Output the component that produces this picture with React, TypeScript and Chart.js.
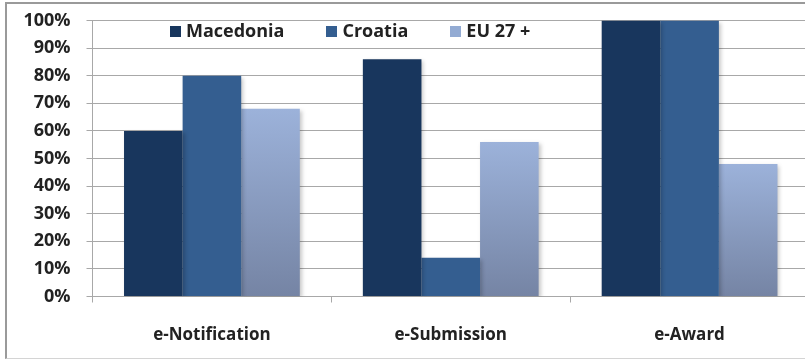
import React, { useEffect, useRef } from "react";
import { Chart, registerables } from "chart.js";

Chart.register(...registerables);

// ---- data ----
const categories = ["e-Notification", "e-Submission", "e-Award"];
const seriesNames = ["Macedonia", "Croatia", "EU 27 +"];
const macedonia = [60, 86, 100];
const croatia = [80, 14, 100];
const eu27 = [68, 56, 48];
const yMin = 0;
const yMax = 100;
const yStep = 10;

const FONT_FAMILY = "'Open Sans', 'DejaVu Sans', sans-serif";
const TEXT_COLOR = "#222222";
const GRID_COLOR = "#a8a8a8";

const insideLegend = {
  id: "insideLegend",
  afterDraw(chart: any) {
    const { ctx, chartArea } = chart;
    ctx.save();
    ctx.font = `bold 18px ${FONT_FAMILY}`;
    ctx.textBaseline = "middle";
    ctx.textAlign = "left";
    let x = chartArea.left + 77.5;
    const y = chartArea.top + 11;
    chart.data.datasets.forEach((ds: any) => {
      ctx.fillStyle = ds.legendColor;
      ctx.fillRect(Math.round(x), Math.round(y - 5.5), 11, 11);
      x += 16;
      ctx.fillStyle = TEXT_COLOR;
      ctx.fillText(ds.label, x, y + 0.5);
      x += ctx.measureText(ds.label).width + 42;
    });
    ctx.restore();
  },
};

const barShadow = {
  id: "barShadow",
  beforeDatasetsDraw(chart: any) {
    const c = chart.ctx;
    c.save();
    c.shadowColor = "rgba(0,0,0,0.22)";
    c.shadowBlur = 4;
    c.shadowOffsetX = 2;
    c.shadowOffsetY = 2;
  },
  afterDatasetsDraw(chart: any) {
    chart.ctx.restore();
  },
};

function euGradient(c: any) {
  const chart = c.chart;
  const ys = chart.scales && chart.scales.y;
  if (!ys || c.type !== "data") return "#8fa5cb";
  const v = c.raw as number;
  const top = ys.getPixelForValue(v);
  const bottom = ys.getPixelForValue(0);
  if (!isFinite(top) || !isFinite(bottom) || top === bottom) return "#8fa5cb";
  const g = chart.ctx.createLinearGradient(0, top, 0, bottom);
  g.addColorStop(0, "#9cb2da");
  g.addColorStop(1, "#7584a4");
  return g;
}

export default function App() {
  const canvasRef = useRef<HTMLCanvasElement | null>(null);

  useEffect(() => {
    const canvas = canvasRef.current;
    if (!canvas) return;
    const xFont = { family: FONT_FAMILY, size: 17, weight: "bold" as const };
    const yFont = { family: FONT_FAMILY, size: 18, weight: "bold" as const };
    const chart = new Chart(canvas, {
      type: "bar",
      data: {
        labels: categories,
        datasets: [
          {
            label: seriesNames[0],
            data: macedonia,
            backgroundColor: "#18365d",
            borderWidth: 0,
            legendColor: "#18365d",
          } as any,
          {
            label: seriesNames[1],
            data: croatia,
            backgroundColor: "#345e90",
            borderWidth: 0,
            legendColor: "#345e90",
          } as any,
          {
            label: seriesNames[2],
            data: eu27,
            backgroundColor: euGradient,
            borderWidth: 0,
            legendColor: "#93abd3",
          } as any,
        ],
      },
      options: {
        responsive: false,
        animation: false,
        events: [],
        layout: { padding: { top: 20.5, left: 0, right: 3, bottom: 0 } },
        datasets: {
          bar: { categoryPercentage: 0.736, barPercentage: 1.0 },
        },
        plugins: {
          legend: { display: false },
          tooltip: { enabled: false },
          title: { display: false },
        },
        scales: {
          x: {
            offset: true,
            grid: {
              display: true,
              drawOnChartArea: false,
              drawTicks: true,
              tickLength: 6,
              color: GRID_COLOR,
              offset: true,
            },
            border: { display: true, color: GRID_COLOR },
            ticks: { font: xFont, color: TEXT_COLOR, padding: 22, maxRotation: 0 },
            afterFit(scale: any) {
              scale.height = 63.5;
              scale.paddingLeft = 0;
              scale.paddingRight = 0;
            },
          },
          y: {
            min: yMin,
            max: yMax,
            grid: {
              display: true,
              drawOnChartArea: true,
              drawTicks: true,
              tickLength: 6,
              color: GRID_COLOR,
            },
            border: { display: true, color: GRID_COLOR },
            ticks: {
              stepSize: yStep,
              font: yFont,
              color: TEXT_COLOR,
              padding: 16,
              callback: (v: any) => `${v}%`,
            },
            afterFit(scale: any) {
              scale.width = 92.5;
              scale.paddingTop = 0;
              scale.paddingBottom = 0;
            },
          },
        },
      },
      plugins: [barShadow, insideLegend],
    });
    return () => chart.destroy();
  }, []);

  return (
    <div
      style={{
        position: "fixed",
        left: 0,
        top: 0,
        width: 805,
        height: 360,
        overflow: "hidden",
        background: "#ffffff",
      }}
    >
      <div
        style={{
          position: "absolute",
          left: 5,
          top: 2,
          width: 1000,
          height: 354,
          borderLeft: "2px solid #9a9a9a",
          borderTop: "2px solid #9a9a9a",
          borderBottom: "1px solid #d4d4d4",
        }}
      />
      <canvas
        ref={canvasRef}
        width={812}
        height={360}
        style={{ position: "absolute", left: 0, top: 0, width: 812, height: 360 }}
      />
    </div>
  );
}
